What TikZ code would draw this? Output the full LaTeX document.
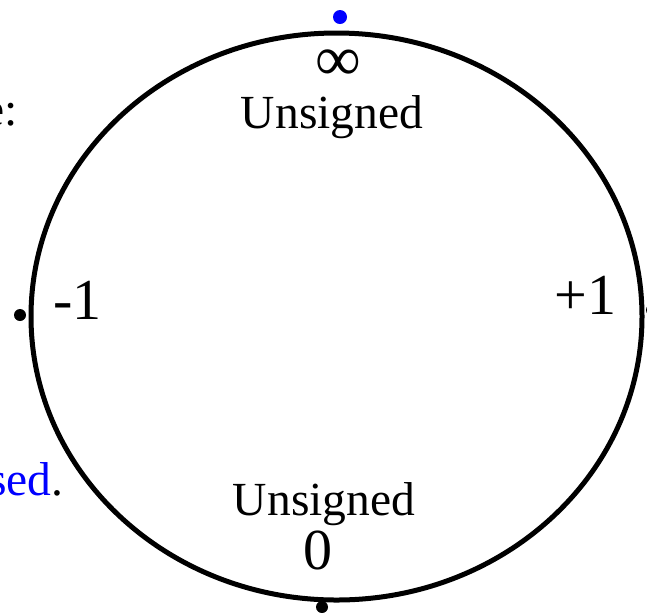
\documentclass[tikz,border=0pt]{standalone}
\usepackage{fontspec}
\setmainfont{Liberation Serif}
\usepackage{xcolor}
\usetikzlibrary{positioning}
\tikzset{
  labeltext/.style={font=\fontsize{23.75}{28}\selectfont, anchor=base, inner sep=0pt},
  numtext/.style={font=\fontsize{29}{34}\selectfont, anchor=base, inner sep=0pt},
  pointdot/.style={circle, fill=black, inner sep=0pt, minimum size=6pt}
}
\begin{document}
\begin{tikzpicture}[x=0.5pt, y=-0.5pt]
        \useasboundingbox (0,0) rectangle (647,612);
        
        % Circle
        \draw[line width=2.5pt] (336.5,316.5) ellipse [x radius=305.5, y radius=283.5];
        
        % Points on the circle
        \node[pointdot, fill=blue, minimum size=7pt] (ptinf) at (340,17) {};
        \node[pointdot] (ptneg) at (20,315) {};
        \node[pointdot] (ptpos) at (652,310) {};
        \node[pointdot] (ptzero) at (322,607) {};
        
        % Labels
        \node[numtext, font=\fontsize{32}{36}\selectfont] (inf) at (338,80) {∞};
        \node[labeltext] (topunsigned) at (332,128) {Unsigned};
        \node[numtext, anchor=base west] (neg) at (53,319) {-1};
        \node[numtext, anchor=base east] (pos) at (617,314) {+1};
        \node[labeltext] (botunsigned) at (324,515) {Unsigned};
        \node[numtext] (zero) at (318,569) {0};
        
        % Text cut off at the left edge
        \node[labeltext, anchor=base east] (lefttop) at (18,125) {e:};
        \node[labeltext, anchor=base east] (leftbot) at (64,495) {\textcolor{blue}{sed}.};
    \end{tikzpicture}
\end{document}
